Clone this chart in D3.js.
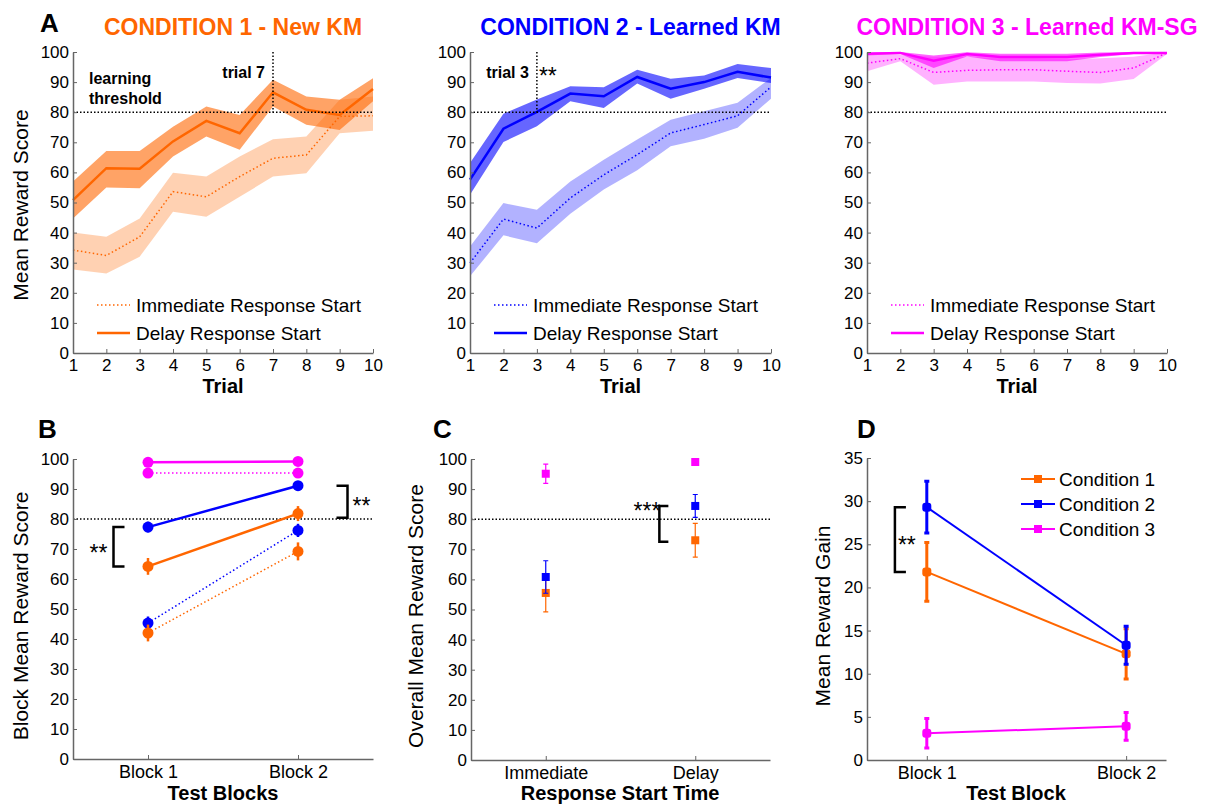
<!DOCTYPE html>
<html>
<head>
<meta charset="utf-8">
<script src="https://cdn.jsdelivr.net/npm/d3@7"></script>
<style>
  body { margin: 0; background: #fff; }
  svg text { font-family: "Liberation Sans", Arial, sans-serif; }
</style>
</head>
<body>
<svg id="fig" width="1208" height="805"></svg>
<script>
// ---- data ----
const trials = [1, 2, 3, 4, 5, 6, 7, 8, 9, 10];

const c1Delay   = [50.8, 61.4, 61.2, 70.3, 77.1, 73.0, 86.6, 80.8, 79.1, 87.7];
const c1DelayHi = [57.0, 67.1, 67.1, 75.2, 81.9, 79.1, 90.8, 85.2, 84.1, 91.3];
const c1DelayLo = [44.7, 55.0, 54.7, 65.3, 71.9, 67.5, 81.9, 75.8, 74.1, 83.6];
const c1Imm     = [34.2, 32.4, 38.6, 53.6, 51.9, 58.6, 64.7, 65.8, 78.6, 78.8];
const c1ImmHi   = [40.0, 38.6, 44.7, 59.9, 58.6, 65.3, 71.0, 71.9, 84.1, 85.2];
const c1ImmLo   = [27.7, 26.4, 32.0, 46.9, 45.3, 51.9, 58.6, 59.7, 73.0, 73.8];

const c2Delay   = [57.6, 74.5, 80.1, 86.2, 85.3, 91.7, 87.8, 90.0, 93.4, 91.5];
const c2DelayHi = [63.1, 79.5, 84.2, 88.6, 88.3, 94.1, 91.1, 92.2, 96.0, 94.7];
const c2DelayLo = [52.6, 70.1, 75.3, 83.6, 81.4, 89.5, 84.5, 87.8, 91.4, 89.7];
const c2Imm     = [29.9, 44.5, 41.5, 51.5, 59.2, 65.9, 73.1, 75.9, 78.8, 88.4];
const c2ImmHi   = [35.4, 49.8, 47.6, 57.0, 64.2, 70.9, 77.5, 80.3, 83.1, 91.4];
const c2ImmLo   = [25.5, 39.1, 36.5, 46.3, 54.3, 60.7, 68.7, 71.2, 74.8, 84.5];

const c3Delay   = [99.4, 99.7, 97.1, 99.3, 98.3, 98.3, 98.3, 99.1, 99.7, 99.7];
const c3DelayHi = [99.9, 100, 98.8, 99.9, 99.4, 99.4, 99.4, 99.8, 100, 100];
const c3DelayLo = [98.8, 99.3, 94.7, 98.5, 96.9, 96.9, 96.9, 98.3, 99.3, 99.3];
const c3Imm     = [96.3, 97.8, 93.2, 93.9, 94.1, 94.1, 93.6, 93.2, 94.7, 99.7];
const c3ImmHi   = [99.0, 99.0, 98.4, 98.4, 97.9, 97.9, 97.6, 97.9, 98.4, 99.9];
const c3ImmLo   = [93.6, 96.9, 89.1, 90.2, 90.2, 90.2, 89.7, 89.5, 91.0, 99.3];

const scoreTicks = [0, 10, 20, 30, 40, 50, 60, 70, 80, 90, 100];
const gainTicks = [0, 5, 10, 15, 20, 25, 30, 35];
const threshold = 80;

// panel B: block means (delay = solid, immediate = dotted)
const blocks = ["Block 1", "Block 2"];
const bDelay1 = [64.2, 81.8], bDelay1Err = [2.8, 2.5];
const bImm1   = [42.0, 69.2], bImm1Err   = [2.8, 3.0];
const bDelay2 = [77.3, 91.1], bDelay2Err = [1.8, 1.5];
const bImm2   = [45.3, 76.2], bImm2Err   = [2.2, 2.2];
const bDelay3 = [98.9, 99.2], bDelay3Err = [0.8, 0.8];
const bImm3   = [95.3, 95.3], bImm3Err   = [0.8, 0.8];

// panel C: overall means
const startTimes = ["Immediate", "Delay"];
const cMean1 = [55.5, 73.0], cErr1 = [6.3, 5.6];
const cMean2 = [60.8, 84.4], cErr2 = [5.4, 3.8];
const cMean3 = [95.1, 99.0], cErr3 = [3.2, 1.0];

// panel D: reward gain
const gain1 = [21.8, 12.3], gainErr1 = [3.4, 2.9];
const gain2 = [29.3, 13.3], gainErr2 = [3.0, 2.2];
const gain3 = [3.1, 3.9],   gainErr3 = [1.7, 1.6];
const conditionNames = ["Condition 1", "Condition 2", "Condition 3"];

const ORANGE = "#ff6600", BLUE = "#0000ff", MAGENTA = "#ff00ff";
const AXIS = "#666";

const svg = d3.select("#fig");

const styleAxis = (g, size) => {
  g.attr("font-family", null);
  g.select(".domain").attr("stroke", AXIS).attr("stroke-width", 1.5);
  g.selectAll(".tick line").attr("stroke", AXIS);
  g.selectAll(".tick text").attr("fill", "#000").attr("font-size", size);
};

const drawAxes = (x, y, yTicks, xTicks, xFormat, xSize) => {
  const yAxis = d3.axisLeft(y).tickValues(yTicks).tickSizeInner(-4).tickSizeOuter(0).tickPadding(4);
  svg.append("g").attr("transform", `translate(${x.range()[0]},0)`).call(yAxis).call(g => styleAxis(g, 17));
  const xAxis = d3.axisBottom(x).tickValues(xTicks).tickSizeInner(-4).tickSizeOuter(0).tickPadding(6)
    .tickFormat(xFormat);
  svg.append("g").attr("transform", `translate(0,${y.range()[0]})`).call(xAxis).call(g => styleAxis(g, xSize));
};

const yLabel = (text, cx, cy) =>
  svg.append("text").attr("transform", `translate(${cx},${cy}) rotate(-90)`)
    .attr("text-anchor", "middle").attr("dominant-baseline", "central")
    .attr("font-size", 21).text(text);

const xLabel = (text, cx, by) =>
  svg.append("text").attr("x", cx).attr("y", by).attr("text-anchor", "middle")
    .attr("font-size", 20).attr("font-weight", "bold").text(text);

const letter = (text, x, y) =>
  svg.append("text").attr("x", x).attr("y", y).attr("font-size", 26)
    .attr("font-weight", "bold").text(text);

const stars = (text, x, y, anchor) =>
  svg.append("text").attr("x", x).attr("y", y).attr("text-anchor", anchor || "start")
    .attr("font-size", 23).text(text);

const thresholdLine = (x, y) =>
  svg.append("line").attr("x1", x.range()[0]).attr("x2", x.range()[1])
    .attr("y1", y(threshold)).attr("y2", y(threshold))
    .attr("stroke", "#000").attr("stroke-width", 1.5).attr("stroke-dasharray", "1.5,2");

// ---- panel A ----
const conditions = [
  { title: "CONDITION 1 - New KM", color: ORANGE, left: 73, right: 373,
    delay: c1Delay, delayHi: c1DelayHi, delayLo: c1DelayLo, imm: c1Imm, immHi: c1ImmHi, immLo: c1ImmLo,
    mark: { trial: 7, label: "trial 7" } },
  { title: "CONDITION 2 - Learned KM", color: BLUE, left: 470, right: 771,
    delay: c2Delay, delayHi: c2DelayHi, delayLo: c2DelayLo, imm: c2Imm, immHi: c2ImmHi, immLo: c2ImmLo,
    mark: { trial: 3, label: "trial 3", stars: "**" } },
  { title: "CONDITION 3 - Learned KM-SG", color: MAGENTA, left: 867, right: 1167,
    delay: c3Delay, delayHi: c3DelayHi, delayLo: c3DelayLo, imm: c3Imm, immHi: c3ImmHi, immLo: c3ImmLo }
];

conditions.forEach((c, ci) => {
  const x = d3.scaleLinear().domain([1, 10]).range([c.left, c.right]);
  const y = d3.scaleLinear().domain([0, 100]).range([353, 52]);

  const band = (lo, hi) => d3.area().x((d, i) => x(trials[i])).y0((d, i) => y(lo[i])).y1((d, i) => y(hi[i]))(trials);
  const line = vals => d3.line().x((d, i) => x(trials[i])).y((d, i) => y(vals[i]))(trials);

  svg.append("path").attr("d", band(c.immLo, c.immHi)).attr("fill", c.color).attr("fill-opacity", 0.3);
  svg.append("path").attr("d", band(c.delayLo, c.delayHi)).attr("fill", c.color).attr("fill-opacity", 0.6);
  svg.append("path").attr("d", line(c.imm)).attr("fill", "none").attr("stroke", c.color)
    .attr("stroke-width", 1.5).attr("stroke-dasharray", "1.5,2.5");
  svg.append("path").attr("d", line(c.delay)).attr("fill", "none").attr("stroke", c.color)
    .attr("stroke-width", 2.5);

  thresholdLine(x, y);
  drawAxes(x, y, scoreTicks, trials, d3.format("d"), 17);

  if (c.mark) {
    svg.append("line").attr("x1", x(c.mark.trial)).attr("x2", x(c.mark.trial))
      .attr("y1", y(100)).attr("y2", y(threshold))
      .attr("stroke", "#000").attr("stroke-width", 1.5).attr("stroke-dasharray", "1.5,2");
    svg.append("text").attr("x", x(c.mark.trial) - 8).attr("y", y(91.5)).attr("text-anchor", "end")
      .attr("font-size", 16).attr("font-weight", "bold").text(c.mark.label);
    if (c.mark.stars) stars(c.mark.stars, x(c.mark.trial) + 2, y(89.3));
  }
  if (ci === 0) {
    svg.append("text").attr("x", x(1) + 16).attr("y", y(89.5)).attr("font-size", 16)
      .attr("font-weight", "bold").text("learning");
    svg.append("text").attr("x", x(1) + 16).attr("y", y(82.8)).attr("font-size", 16)
      .attr("font-weight", "bold").text("threshold");
  }

  // legend
  const lx = c.left + 24;
  [{ label: "Immediate Response Start", dash: "1.5,2.5", w: 1.5, yy: 305 },
   { label: "Delay Response Start", dash: null, w: 2.5, yy: 333 }].forEach(l => {
    svg.append("line").attr("x1", lx).attr("x2", lx + 33).attr("y1", l.yy).attr("y2", l.yy)
      .attr("stroke", c.color).attr("stroke-width", l.w).attr("stroke-dasharray", l.dash);
    svg.append("text").attr("x", lx + 39).attr("y", l.yy).attr("dominant-baseline", "central")
      .attr("font-size", 19).text(l.label);
  });

  svg.append("text").attr("x", (c.left + c.right) / 2 + 10).attr("y", 35).attr("text-anchor", "middle")
    .attr("font-size", 23).attr("font-weight", "bold").attr("fill", c.color).text(c.title);
  xLabel("Trial", (c.left + c.right) / 2, 393);
});
letter("A", 40, 32);
yLabel("Mean Reward Score", 20, 205);

// ---- panel B ----
{
  const x = d3.scaleLinear().domain([0.5, 2.5]).range([73, 373]);
  const y = d3.scaleLinear().domain([0, 100]).range([759, 459]);
  const series = [
    { v: bImm3, e: bImm3Err, c: MAGENTA, dotted: true },
    { v: bDelay3, e: bDelay3Err, c: MAGENTA },
    { v: bImm2, e: bImm2Err, c: BLUE, dotted: true },
    { v: bImm1, e: bImm1Err, c: ORANGE, dotted: true },
    { v: bDelay2, e: bDelay2Err, c: BLUE },
    { v: bDelay1, e: bDelay1Err, c: ORANGE }
  ];
  thresholdLine(x, y);
  series.forEach(s => {
    const pts = s.v.map((v, i) => [x(i + 1), y(v)]);
    svg.append("path").attr("d", d3.line()(pts)).attr("fill", "none").attr("stroke", s.c)
      .attr("stroke-width", s.dotted ? 1.5 : 2.5).attr("stroke-dasharray", s.dotted ? "1.5,2.5" : null);
    s.v.forEach((v, i) => {
      svg.append("line").attr("x1", x(i + 1)).attr("x2", x(i + 1))
        .attr("y1", y(v - s.e[i])).attr("y2", y(v + s.e[i])).attr("stroke", s.c).attr("stroke-width", 2.5);
      svg.append("circle").attr("cx", x(i + 1)).attr("cy", y(v)).attr("r", 5.5).attr("fill", s.c);
    });
  });
  drawAxes(x, y, scoreTicks, [1, 2], (d, i) => blocks[i], 18);

  const bracket = (xv, top, bot, len) => {
    svg.append("path").attr("d", `M${xv + len},${y(top)}H${xv}V${y(bot)}H${xv + len}`)
      .attr("fill", "none").attr("stroke", "#000").attr("stroke-width", 2.5);
  };
  bracket(x(0.77), bDelay2[0], bDelay1[0], 11);
  stars("**", x(0.77) - 6, y(70.6) + 14, "end");
  bracket(x(2.33), bDelay2[1], threshold + 0.4, -11);
  stars("**", x(2.33) + 5, y(86) + 13);

  letter("B", 38, 438);
  yLabel("Block Mean Reward Score", 20, 616);
  xLabel("Test Blocks", 223, 800);
}

// ---- panel C ----
{
  const x = d3.scaleLinear().domain([0.5, 2.5]).range([471, 770]);
  const y = d3.scaleLinear().domain([0, 100]).range([760, 459]);
  const series = [
    { v: cMean3, e: cErr3, c: MAGENTA },
    { v: cMean1, e: cErr1, c: ORANGE },
    { v: cMean2, e: cErr2, c: BLUE }
  ];
  thresholdLine(x, y);
  series.forEach(s => {
    s.v.forEach((v, i) => {
      const cx = x(i + 1);
      svg.append("path")
        .attr("d", `M${cx},${y(v - s.e[i])}V${y(v + s.e[i])}M${cx - 2.5},${y(v - s.e[i])}H${cx + 2.5}M${cx - 2.5},${y(v + s.e[i])}H${cx + 2.5}`)
        .attr("stroke", s.c).attr("stroke-width", 1.2).attr("fill", "none");
      svg.append("rect").attr("x", cx - 4).attr("y", y(v) - 4).attr("width", 8).attr("height", 8).attr("fill", s.c);
    });
  });
  drawAxes(x, y, scoreTicks, [1, 2], (d, i) => startTimes[i], 18);

  const bx = x(1.76);
  svg.append("path").attr("d", `M${bx + 9},${y(cMean2[1])}H${bx}V${y(72.5)}H${bx + 9}`)
    .attr("fill", "none").attr("stroke", "#000").attr("stroke-width", 2.5);
  stars("***", bx + 1, y(84.5) + 13, "end");

  letter("C", 433, 438);
  yLabel("Overall Mean Reward Score", 415, 616);
  xLabel("Response Start Time", 620, 800);
}

// ---- panel D ----
{
  const x = d3.scaleLinear().domain([0.7, 2.2]).range([867, 1166]);
  const y = d3.scaleLinear().domain([0, 35]).range([760, 458]);
  const series = [
    { v: gain1, e: gainErr1, c: ORANGE },
    { v: gain3, e: gainErr3, c: MAGENTA },
    { v: gain2, e: gainErr2, c: BLUE }
  ];
  series.forEach(s => {
    const pts = s.v.map((v, i) => [x(i + 1), y(v)]);
    svg.append("path").attr("d", d3.line()(pts)).attr("fill", "none").attr("stroke", s.c).attr("stroke-width", 2);
    s.v.forEach((v, i) => {
      const cx = x(i + 1);
      svg.append("path")
        .attr("d", `M${cx},${y(v - s.e[i])}V${y(v + s.e[i])}M${cx - 2.5},${y(v - s.e[i])}H${cx + 2.5}M${cx - 2.5},${y(v + s.e[i])}H${cx + 2.5}`)
        .attr("stroke", s.c).attr("stroke-width", 3).attr("fill", "none");
      svg.append("rect").attr("x", cx - 4.5).attr("y", y(v) - 4.5).attr("width", 9).attr("height", 9)
        .attr("rx", 3).attr("fill", s.c);
    });
  });
  drawAxes(x, y, gainTicks, [1, 2], (d, i) => blocks[i], 18);

  const bx = x(0.84);
  svg.append("path").attr("d", `M${bx + 11},${y(gain2[0])}H${bx}V${y(gain1[0])}H${bx + 11}`)
    .attr("fill", "none").attr("stroke", "#000").attr("stroke-width", 2.5);
  stars("**", bx + 3, y(25.5) + 13);

  // legend
  [ORANGE, BLUE, MAGENTA].forEach((col, i) => {
    const ly = 479 + i * 25;
    svg.append("line").attr("x1", 1021).attr("x2", 1055).attr("y1", ly).attr("y2", ly)
      .attr("stroke", col).attr("stroke-width", 2);
    svg.append("rect").attr("x", 1034).attr("y", ly - 4).attr("width", 8).attr("height", 8).attr("fill", col);
    svg.append("text").attr("x", 1059).attr("y", ly).attr("dominant-baseline", "central")
      .attr("font-size", 19).text(conditionNames[i]);
  });

  letter("D", 857, 438);
  yLabel("Mean Reward Gain", 822, 616);
  xLabel("Test Block", 1016, 800);
}
</script>
</body>
</html>
